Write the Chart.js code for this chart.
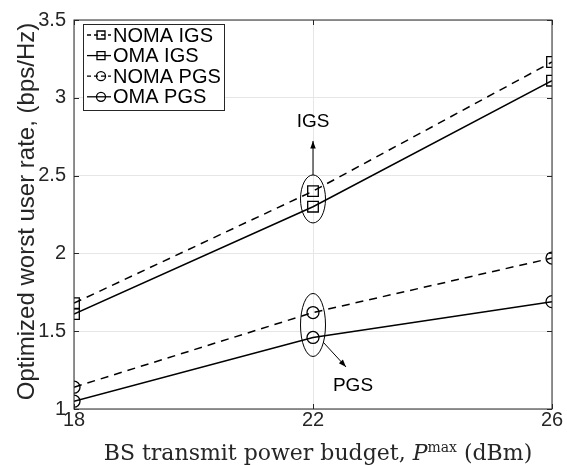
<!DOCTYPE html>
<html>
<head>
<meta charset="utf-8">
<script src="https://cdn.jsdelivr.net/npm/chart.js@4/dist/chart.umd.min.js"></script>
<style>
  html, body { margin: 0; padding: 0; background: #fff; }
  #wrap { width: 567px; height: 465px; }
</style>
</head>
<body>
<div id="wrap"><canvas id="chart" width="567" height="465"></canvas></div>
<script>
// ── Data ──
const powerBudget = [18, 22, 26];            // dBm
const nomaIgs     = [1.68, 2.40, 3.23];
const omaIgs      = [1.61, 2.30, 3.11];
const nomaPgs     = [1.14, 1.62, 1.97];
const omaPgs      = [1.05, 1.46, 1.69];
const seriesNames = ['NOMA IGS', 'OMA IGS', 'NOMA PGS', 'OMA PGS'];
const yTicks      = [1, 1.5, 2, 2.5, 3, 3.5];

const SANS  = "'Liberation Sans', Arial, Helvetica, sans-serif";
const SERIF = "'DejaVu Serif', 'Liberation Serif', serif";
const AXIS  = '#262626';
const DASH  = [8, 6];

const toXY = vals => vals.map((v, i) => ({ x: powerBudget[i], y: v }));

function series(label, vals, dashed, style, radius) {
  return {
    label,
    data: toXY(vals),
    borderColor: '#000',
    borderWidth: 1.5,
    borderDash: dashed ? DASH : [],
    backgroundColor: 'transparent',
    pointStyle: style,
    pointRadius: radius,
    pointBorderWidth: 1.3,
    pointBorderColor: '#000',
    pointBackgroundColor: 'transparent',
    tension: 0,
  };
}

// ══════════════════════════════════════════════
// DECORATIONS: box, inward ticks, legend, notes, titles
// ══════════════════════════════════════════════
const decorations = {
  id: 'decorations',
  afterDraw(chart) {
    const { ctx, chartArea: a, scales: { x, y } } = chart;
    ctx.save();

    // axes box + inward ticks
    ctx.strokeStyle = AXIS;
    ctx.lineWidth = 1;
    ctx.strokeRect(a.left, a.top, a.right - a.left, a.bottom - a.top);
    ctx.beginPath();
    powerBudget.forEach(v => {
      const px = Math.round(x.getPixelForValue(v)) + 0.5;
      ctx.moveTo(px, a.bottom); ctx.lineTo(px, a.bottom - 5);
      ctx.moveTo(px, a.top);    ctx.lineTo(px, a.top + 5);
    });
    yTicks.forEach(v => {
      const py = Math.round(y.getPixelForValue(v)) + 0.5;
      ctx.moveTo(a.left, py);  ctx.lineTo(a.left + 5, py);
      ctx.moveTo(a.right, py); ctx.lineTo(a.right - 5, py);
    });
    ctx.stroke();

    // legend
    const lx = 83, ly = 24, lw = 141, lh = 86;
    ctx.fillStyle = '#fff';
    ctx.fillRect(lx, ly, lw, lh);
    ctx.strokeStyle = AXIS;
    ctx.strokeRect(lx + 0.5, ly + 0.5, lw, lh);
    chart.data.datasets.forEach((ds, i) => {
      const cy = ly + 11 + i * 20.6;
      ctx.strokeStyle = '#000';
      ctx.lineWidth = 1.3;
      ctx.setLineDash(ds.borderDash.length ? [4, 3] : []);
      ctx.beginPath();
      ctx.moveTo(lx + 4, cy); ctx.lineTo(lx + 28, cy);
      ctx.stroke();
      ctx.setLineDash([]);
      ctx.beginPath();
      if (ds.pointStyle === 'rect') ctx.rect(lx + 14, cy - 4, 8, 8);
      else ctx.arc(lx + 18, cy, 4.5, 0, Math.PI * 2);
      ctx.stroke();
      ctx.fillStyle = '#000';
      ctx.font = `20px ${SANS}`;
      ctx.textAlign = 'left';
      ctx.textBaseline = 'middle';
      ctx.fillText(ds.label, lx + 30, cy + 1);
    });

    // annotations at 22 dBm
    const cx = x.getPixelForValue(powerBudget[1]);
    const igsY = (y.getPixelForValue(nomaIgs[1]) + y.getPixelForValue(omaIgs[1])) / 2;
    const pgsY = (y.getPixelForValue(nomaPgs[1]) + y.getPixelForValue(omaPgs[1])) / 2;
    ctx.strokeStyle = '#000';
    ctx.lineWidth = 1;
    ctx.beginPath(); ctx.ellipse(cx, igsY, 12.5, 24, 0, 0, Math.PI * 2); ctx.stroke();
    ctx.beginPath(); ctx.ellipse(cx, pgsY, 12.5, 31.5, 0, 0, Math.PI * 2); ctx.stroke();

    const arrow = (x0, y0, x1, y1) => {
      const ang = Math.atan2(y1 - y0, x1 - x0);
      ctx.beginPath(); ctx.moveTo(x0, y0); ctx.lineTo(x1, y1); ctx.stroke();
      ctx.beginPath();
      ctx.moveTo(x1, y1);
      ctx.lineTo(x1 - 8 * Math.cos(ang - 0.35), y1 - 8 * Math.sin(ang - 0.35));
      ctx.lineTo(x1 - 8 * Math.cos(ang + 0.35), y1 - 8 * Math.sin(ang + 0.35));
      ctx.closePath();
      ctx.fillStyle = '#000';
      ctx.fill();
    };
    arrow(cx, igsY - 24, cx, igsY - 58);
    arrow(cx + 10, pgsY + 17, cx + 33, pgsY + 42);

    ctx.fillStyle = '#000';
    ctx.font = `19px ${SANS}`;
    ctx.textAlign = 'center';
    ctx.textBaseline = 'middle';
    ctx.fillText('IGS', cx, 122);
    ctx.fillText('PGS', cx + 40, 386);

    // x title with italic P and superscript
    const parts = [
      { t: 'BS transmit power budget, ', f: `22px ${SERIF}`, dy: 0 },
      { t: 'P', f: `italic 22px ${SERIF}`, dy: 0 },
      { t: 'max', f: `14px ${SERIF}`, dy: -8 },
      { t: ' (dBm)', f: `22px ${SERIF}`, dy: 0 },
    ];
    let total = 0;
    parts.forEach(p => { ctx.font = p.f; p.w = ctx.measureText(p.t).width; total += p.w; });
    let tx = 318 - total / 2;
    ctx.textAlign = 'left';
    ctx.textBaseline = 'alphabetic';
    ctx.fillStyle = '#262626';
    parts.forEach(p => { ctx.font = p.f; ctx.fillText(p.t, tx, 460 + p.dy); tx += p.w; });

    // y title
    ctx.save();
    ctx.translate(34, 211.5);
    ctx.rotate(-Math.PI / 2);
    ctx.font = `24px ${SANS}`;
    ctx.textAlign = 'center';
    ctx.textBaseline = 'alphabetic';
    ctx.fillText('Optimized worst user rate, (bps/Hz)', 0, 0);
    ctx.restore();

    ctx.restore();
  }
};

// ══════════════════════════════════════════════
// CHART
// ══════════════════════════════════════════════
new Chart(document.getElementById('chart'), {
  type: 'line',
  data: {
    datasets: [
      series(seriesNames[0], nomaIgs, true,  'rect',   7.5),
      series(seriesNames[1], omaIgs,  false, 'rect',   7.5),
      series(seriesNames[2], nomaPgs, true,  'circle', 6),
      series(seriesNames[3], omaPgs,  false, 'circle', 6),
    ]
  },
  options: {
    responsive: false,
    animation: false,
    layout: { padding: { top: 16, right: 15, left: 0, bottom: 0 } },
    plugins: {
      legend:  { display: false },
      tooltip: { enabled: false },
    },
    scales: {
      x: {
        type: 'linear',
        min: powerBudget[0],
        max: powerBudget[powerBudget.length - 1],
        afterBuildTicks: s => { s.ticks = powerBudget.map(v => ({ value: v })); },
        afterFit: s => { s.height = 56; },
        ticks: { color: AXIS, font: { family: SANS, size: 20 }, padding: -1, maxRotation: 0 },
        grid:  { color: '#e6e6e6', drawTicks: false },
        border: { display: false },
      },
      y: {
        min: yTicks[0],
        max: yTicks[yTicks.length - 1],
        afterBuildTicks: s => { s.ticks = yTicks.map(v => ({ value: v })); },
        afterFit: s => { s.width = 74; },
        ticks: { color: AXIS, font: { family: SANS, size: 20 }, padding: 8, callback: v => String(v) },
        grid:  { color: '#e6e6e6', drawTicks: false },
        border: { display: false },
      },
    },
  },
  plugins: [decorations],
});
</script>
</body>
</html>
